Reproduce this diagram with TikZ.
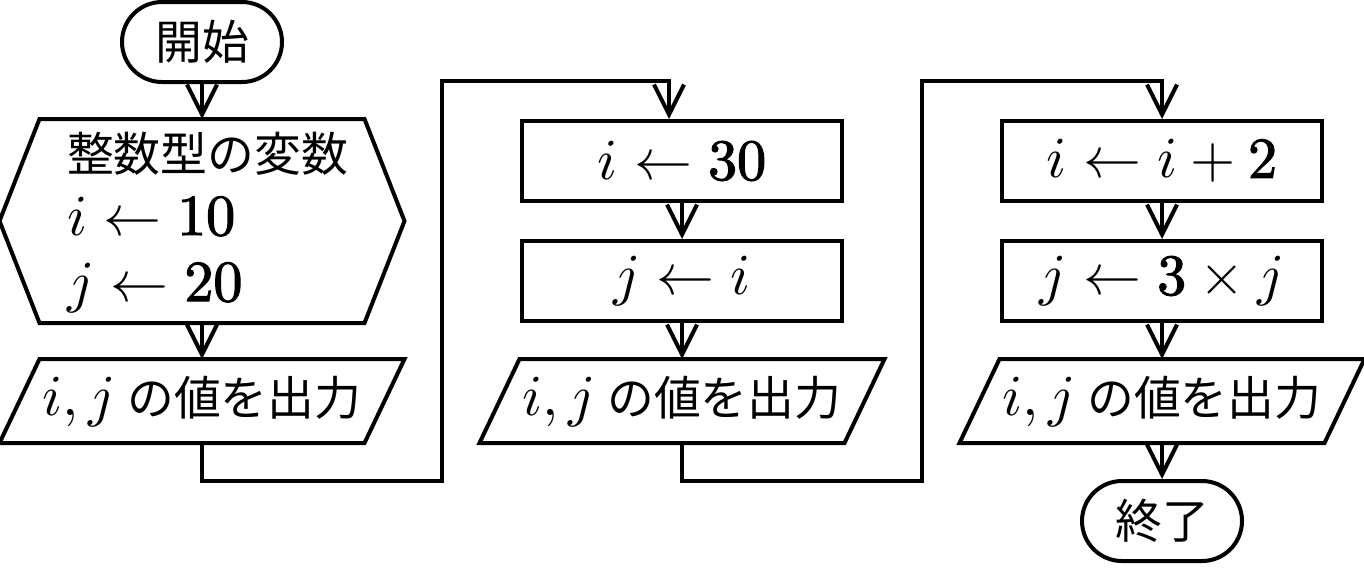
\documentclass[tikz,border=0pt]{standalone}
\usepackage{graphicx}
\usepackage{fontspec}
\newfontfamily\cjk{Noto Sans CJK JP}[Scale=0.807]
\newfontfamily\digfont{Latin Modern Roman}[FakeBold=2]
\usetikzlibrary{arrows.meta,shapes.misc}
\newcommand\tx[1]{\scalebox{2.32}{#1}}
\newcommand\numd[1]{\mbox{\digfont #1}}
\begin{document}
\begin{tikzpicture}[x=0.4pt,y=-0.4pt, line width=1.6pt, line join=miter,
  every node/.style={inner sep=0pt, font=\fontsize{10}{12}\selectfont},
  term/.style={rounded rectangle, draw, minimum width=64pt, minimum height=32pt},
  procbox/.style={rectangle, draw, minimum width=128pt, minimum height=32pt},
  iobox/.style={rectangle, minimum width=128.4pt, minimum height=32pt},
  arr/.style={-{Straight Barb[length=12pt,width=12pt,sharp]}}]
\useasboundingbox (0,0) rectangle (1364,568);

% column 1
\node[term] (start) at (202,42) {\tx{\cjk 開始}};
\node[minimum width=128.4pt, minimum height=80pt] (hex) at (202,221) {};
\draw (hex.north west) -- (hex.north east) -- ([xshift=16pt]hex.east) -- (hex.south east)
  -- (hex.south west) -- ([xshift=-16pt]hex.west) -- cycle;
\node[anchor=base west] (h1) at (65,171) {\tx{\cjk 整数型の変数}};
\node[anchor=base west] (h2) at (65,235) {\tx{$i \leftarrow \numd{10}$}};
\node[anchor=base west] (h3) at (65,301) {\tx{$j \leftarrow \numd{20}$}};

\node[iobox] (p1) at (202,401) {\tx{$i, j$\hspace{2pt}{\cjk の値を出力}}};
\draw (p1.north west) -- ([xshift=16pt]p1.north east) -- (p1.south east) -- ([xshift=-16pt]p1.south west) -- cycle;

% column 2
\node[procbox] (b1) at (682,161) {\tx{$i \leftarrow \numd{30}$}};
\node[procbox] (b2) at (682,281) {\tx{$j \leftarrow i$}};
\node[iobox] (p2) at (682,401) {\tx{$i, j$\hspace{2pt}{\cjk の値を出力}}};
\draw (p2.north west) -- ([xshift=16pt]p2.north east) -- (p2.south east) -- ([xshift=-16pt]p2.south west) -- cycle;

% column 3
\node[procbox] (b3) at (1162,161) {\tx{$i \leftarrow i + \numd{2}$}};
\node[procbox] (b4) at (1162,281) {\tx{$j \leftarrow \numd{3} \times j$}};
\node[iobox] (p3) at (1162,401) {\tx{$i, j$\hspace{2pt}{\cjk の値を出力}}};
\draw (p3.north west) -- ([xshift=16pt]p3.north east) -- (p3.south east) -- ([xshift=-16pt]p3.south west) -- cycle;
\node[term] (end) at (1162,521) {\tx{\cjk 終了}};

% connectors
\coordinate (k1) at (442,481);
\coordinate (k2) at (442,81);
\coordinate (k3) at (922,481);
\coordinate (k4) at (922,81);
\draw[arr] (start.south) -- (hex.north);
\draw[arr] (hex.south) -- (p1.north);
\draw[arr] (p1.south) |- (k1) -- (k2) -| ([xshift=-5.2pt]b1.north);
\draw[arr] (b1.south) -- (b2.north);
\draw[arr] (b2.south) -- (p2.north);
\draw[arr] (p2.south) |- (k3) -- (k4) -| (b3.north);
\draw[arr] (b3.south) -- (b4.north);
\draw[arr] (b4.south) -- (p3.north);
\draw[arr] (p3.south) -- (end.north);
\end{tikzpicture}
\end{document}
